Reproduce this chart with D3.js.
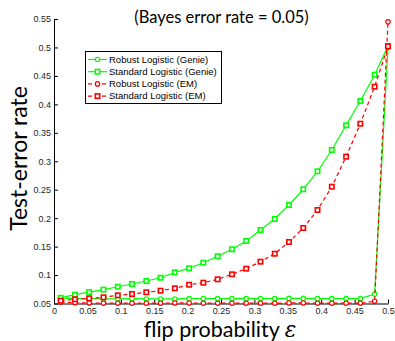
<!DOCTYPE html>
<html>
<head>
<meta charset="utf-8">
<script src="https://cdn.jsdelivr.net/npm/d3@7/dist/d3.min.js"></script>
<style>
  body { margin: 0; background: #fff; }
  svg { display: block; }
  .tick text { font-family: "Liberation Sans", Arial, sans-serif; font-size: 9px; fill: #262626; }
</style>
</head>
<body>
<div id="chart"></div>
<script>
// flip probabilities (x)
const flipProb = [0.01, 0.0314, 0.0527, 0.0741, 0.0955, 0.1168, 0.1382, 0.1595, 0.1809, 0.2023,
  0.2236, 0.245, 0.2664, 0.2877, 0.3091, 0.3305, 0.3518, 0.3732, 0.3945, 0.4159,
  0.4373, 0.4586, 0.48, 0.5];

const robustGenie = [0.0595, 0.059, 0.0585, 0.058, 0.058, 0.0585, 0.058, 0.058, 0.058, 0.0585,
  0.0588, 0.0585, 0.0585, 0.0585, 0.0588, 0.0585, 0.059, 0.059, 0.0585, 0.0585,
  0.0585, 0.0585, 0.0665, 0.5];
const standardGenie = [0.060, 0.0655, 0.070, 0.0743, 0.0795, 0.0843, 0.0895, 0.0953, 0.1048, 0.1119,
  0.1217, 0.133, 0.1453, 0.1598, 0.1792, 0.1985, 0.2231, 0.2507, 0.2823, 0.3198,
  0.3632, 0.4059, 0.4521, 0.5026];
const robustEM = [0.0525, 0.0515, 0.051, 0.0505, 0.0505, 0.0505, 0.0505, 0.0505, 0.051, 0.051,
  0.0505, 0.0505, 0.0505, 0.0505, 0.0505, 0.0505, 0.051, 0.051, 0.0505, 0.0505,
  0.0505, 0.0505, 0.054, 0.545];
const standardEM = [0.0549, 0.0574, 0.0591, 0.0609, 0.0644, 0.0667, 0.0697, 0.0725, 0.0767, 0.083,
  0.0866, 0.0925, 0.1013, 0.1112, 0.1235, 0.1375, 0.1581, 0.1827, 0.2143, 0.2553,
  0.308, 0.366, 0.431, 0.502];

const xTicks = [0, 0.05, 0.1, 0.15, 0.2, 0.25, 0.3, 0.35, 0.4, 0.45, 0.5];
const yTicks = [0.05, 0.1, 0.15, 0.2, 0.25, 0.3, 0.35, 0.4, 0.45, 0.5, 0.55];

const series = [
  { name: 'Robust Logistic (Genie)', values: robustGenie, color: '#00ff00', dash: null, marker: 'circle' },
  { name: 'Standard Logistic (Genie)', values: standardGenie, color: '#00ff00', dash: null, marker: 'square' },
  { name: 'Robust Logistic (EM)', values: robustEM, color: '#ff0000', dash: '4,3', marker: 'circle' },
  { name: 'Standard Logistic (EM)', values: standardEM, color: '#ff0000', dash: '4,3', marker: 'square' }
];

const width = 395, height = 341;
const svg = d3.select('#chart').append('svg')
  .attr('width', width)
  .attr('height', height);

const x = d3.scaleLinear().domain([0, 0.5]).range([54, 388]);
const y = d3.scaleLinear().domain([0.05, 0.55]).range([303.5, 19]);

// axes (ticks point inward)
svg.append('g')
  .attr('transform', `translate(0,${y(0.05)})`)
  .call(d3.axisBottom(x).tickValues(xTicks).tickFormat(d3.format('')).tickSizeInner(-4).tickSizeOuter(0).tickPadding(4))
  .call(g => g.select('.domain').attr('stroke', '#000'));

svg.append('g')
  .attr('transform', `translate(${x(0)},0)`)
  .call(d3.axisLeft(y).tickValues(yTicks).tickFormat(d3.format('')).tickSizeInner(-4).tickSizeOuter(0).tickPadding(3))
  .call(g => g.select('.domain').attr('stroke', '#000'));

// lines
const line = d3.line()
  .x((d, i) => x(flipProb[i]))
  .y(d => y(d));

function drawMarker(g, type, color) {
  if (type === 'circle') {
    g.append('circle').attr('r', 2.2)
      .attr('fill', '#fff').attr('stroke', color).attr('stroke-width', 1.2);
  } else {
    g.append('rect').attr('x', -2.2).attr('y', -2.2).attr('width', 4.4).attr('height', 4.4)
      .attr('fill', '#fff').attr('stroke', color).attr('stroke-width', 1.6);
  }
}

series.forEach(s => {
  svg.append('path')
    .datum(s.values)
    .attr('fill', 'none')
    .attr('stroke', s.color)
    .attr('stroke-width', 1.2)
    .attr('stroke-dasharray', s.dash)
    .attr('d', line);

  svg.append('g').selectAll('g')
    .data(s.values)
    .enter().append('g')
    .attr('transform', (d, i) => `translate(${x(flipProb[i])},${y(d)})`)
    .each(function () { drawMarker(d3.select(this), s.marker, s.color); });
});

// legend
const legend = svg.append('g');
legend.append('rect')
  .attr('x', 85.5).attr('y', 51.5).attr('width', 136).attr('height', 52)
  .attr('fill', '#fff').attr('stroke', '#000').attr('stroke-width', 1);

series.forEach((s, i) => {
  const ly = 59.5 + i * 12.2;
  legend.append('line')
    .attr('x1', 88).attr('x2', 107).attr('y1', ly).attr('y2', ly)
    .attr('stroke', s.color).attr('stroke-width', 1.2)
    .attr('stroke-dasharray', s.dash);
  const m = legend.append('g').attr('transform', `translate(97.5,${ly})`);
  drawMarker(m, s.marker, s.color);
  legend.append('text')
    .attr('x', 109).attr('y', ly + 3.3)
    .attr('font-family', '"Liberation Sans", Arial, sans-serif')
    .attr('font-size', '9.5px')
    .attr('fill', '#000')
    .text(s.name);
});

// title and axis labels
svg.append('text')
  .attr('x', 221.5).attr('y', 23)
  .attr('text-anchor', 'middle')
  .attr('font-family', 'Lato, sans-serif')
  .attr('font-size', '16.5px')
  .text('(Bayes error rate = 0.05)');

svg.append('text')
  .attr('transform', 'translate(26.5,158.5) rotate(-90)')
  .attr('text-anchor', 'middle')
  .attr('font-family', 'Lato, sans-serif')
  .attr('font-size', '23px')
  .text('Test-error rate');

const xl = svg.append('text')
  .attr('x', 220).attr('y', 337)
  .attr('text-anchor', 'middle')
  .attr('font-family', 'Lato, sans-serif')
  .attr('font-size', '21.5px');
xl.append('tspan').text('flip probability ');
xl.append('tspan').attr('font-style', 'italic').attr('font-family', '"DejaVu Serif", serif').text('ε');
</script>
</body>
</html>
